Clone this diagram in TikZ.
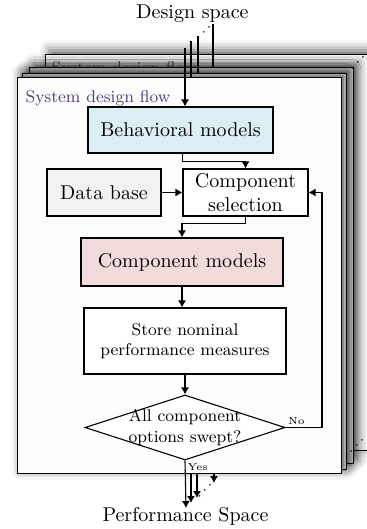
\documentclass[tikz,border=0pt]{standalone}
\usepackage{tikz}
\usetikzlibrary{shapes.geometric,arrows.meta,shadows.blur}
\definecolor{behblue}{RGB}{219,238,244}
\definecolor{dbgray}{RGB}{242,242,242}
\definecolor{cmpink}{RGB}{242,220,219}
\definecolor{flowviolet}{RGB}{84,64,122}
\definecolor{pagefill}{RGB}{252,252,252}
\newcommand{\smallfont}{\fontsize{8.5}{10.3}\selectfont}
\newcommand{\tagfont}{\fontsize{5}{6}\selectfont}
\newcommand{\dotfont}{\fontsize{7}{8}\selectfont}

\begin{document}
\begin{tikzpicture}[x=0.5pt, y=-0.5pt, line width=0.55pt,
    page/.style ={draw, fill=pagefill, anchor=north west, minimum width=162pt, minimum height=198pt, inner sep=0pt,
                  blur shadow={shadow xshift=2pt, shadow yshift=2pt, shadow blur radius=5pt, shadow opacity=65}},
    flowlab/.style={anchor=west, text=flowviolet, font=\smallfont, inner sep=0pt},
    box/.style ={draw, inner sep=1.5pt, align=center},
    arr/.style ={-{Latex[length=3.5pt,width=4pt]}},
    tag/.style ={font=\tagfont, inner sep=1pt},
    etc/.style ={font=\dotfont, rotate=45, inner sep=0pt},
  ]
  \useasboundingbox (0,0) rectangle (366,529);

  % stack of design flows
  \node[page] (page3) at (45,54) {};
  \node[flowlab, text=flowviolet!60!gray, anchor=north west] (flow3) at ([xshift=3pt,yshift=-3.5pt]page3.north west) {System design flow};
  \foreach \i/\px/\py in {2/29.3/66.7, 1/22.3/72.7, 0/17/77}{
    \node[page] (page\i) at (\px,\py) {};
  }
  \node[flowlab] (flow0) at ([xshift=4pt,yshift=-10.5pt]page0.north west) {System design flow};
  \node[etc] (etctr) at (358,63) {$\cdots$};
  \node[etc] (etcbr) at (357,446) {$\cdots$};

  % design space in
  \node[anchor=base] (dspace) at (192.5,19) {Design space};
  \coordinate (in0) at (185,48);
  \coordinate (in1) at (191,41);
  \coordinate (in2) at (198,36);
  \coordinate (in3) at (213,24);
  \node[etc] (etcin) at (204,33) {$\cdots$};

  % flow
  \node[box, fill=behblue, minimum width=92.5pt, minimum height=23pt] (beh) at (180.5,130) {Behavioral models};
  \node[box, fill=dbgray, minimum width=57pt, minimum height=23.5pt] (db) at (104,192.5) {Data base};
  \node[box, fill=white, minimum width=62.5pt, minimum height=23.5pt] (sel) at (245.5,192.5) {Component\\selection};
  \node[box, fill=cmpink, minimum width=101pt, minimum height=24pt] (cm) at (182,262) {Component models};
  \node[box, fill=white, minimum width=101pt, minimum height=33pt, font=\smallfont] (store) at (185,341) {Store nominal\\performance measures};
  \node[diamond, draw, fill=white, minimum width=100pt, minimum height=32.5pt, inner sep=0pt] (swept) at (185,427.5) {};
  \node[font=\smallfont, align=center, inner sep=0pt] (sweptlab) at (swept) {All component\\options swept?};
  \node[tag, anchor=south west] (nolab) at (swept.east) {No};
  \node[tag, anchor=north west] (yeslab) at ([yshift=-0.5pt]swept.south) {Yes};
  \coordinate (loop) at (322,0);

  \draw[arr] (in0) -- (in0 |- beh.north);
  \draw (in1) -- (in1 |- page0.north);
  \draw (in2) -- (in2 |- page1.north);
  \draw (in3) -- (in3 |- page2.north);
  \draw[arr] (beh.south -| sel.west) -- ++(0,8) -| (sel.north);
  \draw[arr] (db) -- (sel);
  \draw[arr] (sel.south) -- ++(0,7) -| (cm.north);
  \draw[arr] (cm.south) -- (cm.south |- store.north);
  \draw[arr] (store) -- (swept);
  \draw[arr] (swept.east) -- (swept.east -| loop) |- (sel.east);

  % performance space out
  \node[anchor=base] (pspace) at (185.5,521.5) {Performance Space};
  \coordinate (out0) at (186,508);
  \coordinate (out1) at (191,503);
  \coordinate (out2) at (197,498);
  \coordinate (out3) at (214,483);
  \node[etc] (etcout) at (205,491) {$\cdots$};
  \draw[arr] (swept.south) -- (out0);
  \draw[arr] (out1 |- page0.south) -- (out1);
  \draw[arr] (out2 |- page0.south) -- (out2);
  \draw[arr] (out3 |- page0.south) -- (out3);
\end{tikzpicture}
\end{document}
